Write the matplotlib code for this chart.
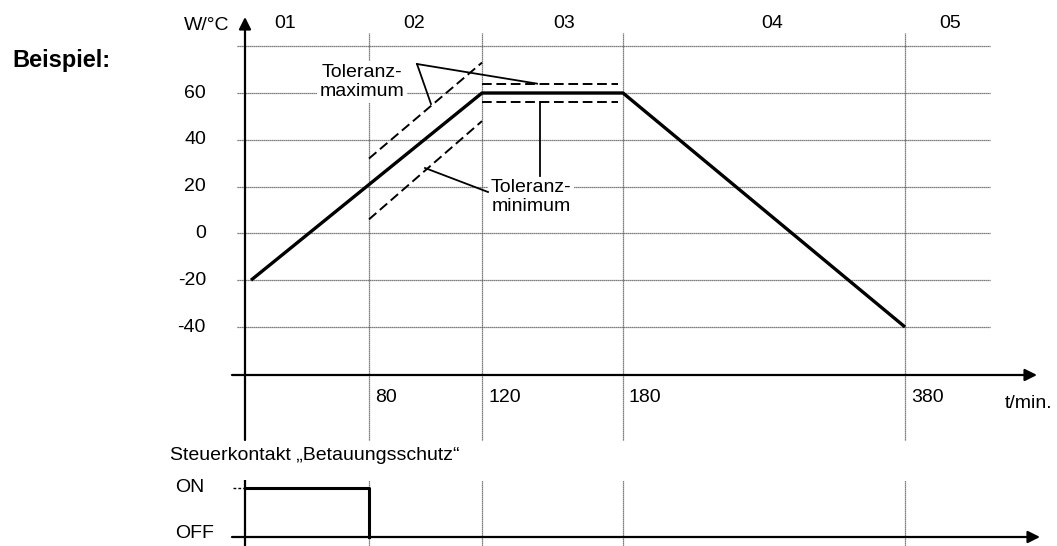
import numpy as np
import matplotlib
matplotlib.use("Agg")
import matplotlib.pyplot as plt

plt.rcParams['font.family'] = ['Liberation Sans', 'DejaVu Sans']

# =========================
# Data
# =========================
time_ticks = [80, 120, 180, 380]               # t/min. labels
value_ticks = [-40, -20, 0, 20, 40, 60]        # W/°C labels
grid_values = [-40, -20, 0, 20, 40, 60, 80]

profile_t = [0, 120, 180, 380]
profile_v = [-20, 60, 60, -40]

tol_max_ramp_t = [80, 120]
tol_max_ramp_v = [32, 73]
tol_min_ramp_t = [80, 120]
tol_min_ramp_v = [6, 48]
tol_hold_t = [120, 178]
tol_max_hold_v = [64, 64]
tol_min_hold_v = [56, 56]

segment_labels = ["01", "02", "03", "04", "05"]
segment_t = [23, 96, 155, 286, 412]

contact_end_t = 80   # ON until 80 min

# =========================
# Layout (pixels of the 1057x546 picture)
# =========================
W, H = 1057, 546
T_BRK = np.array([0, 80, 120, 180, 380], float)
P_BRK = np.array([251, 369, 482, 623, 905], float)
S0 = (P_BRK[1] - P_BRK[0]) / (T_BRK[1] - T_BRK[0])
S1 = (P_BRK[-1] - P_BRK[-2]) / (T_BRK[-1] - T_BRK[-2])


def fwd(t):
    t = np.asarray(t, float)
    p = np.interp(t, T_BRK, P_BRK)
    p = np.where(t < T_BRK[0], P_BRK[0] + (t - T_BRK[0]) * S0, p)
    p = np.where(t > T_BRK[-1], P_BRK[-1] + (t - T_BRK[-1]) * S1, p)
    return p


def inv(p):
    p = np.asarray(p, float)
    t = np.interp(p, P_BRK, T_BRK)
    t = np.where(p < P_BRK[0], T_BRK[0] + (p - P_BRK[0]) / S0, t)
    t = np.where(p > P_BRK[-1], T_BRK[-1] + (p - P_BRK[-1]) / S1, t)
    return t


def px(x):
    return float(inv(x))


def vtop(y):   # pixel row -> W/°C
    return 60 - (y - 93) / 2.34


def vbot(y):   # pixel row -> ON/OFF level
    return (537 - y) / 49.0


FS = 14
AXIS_T = px(245)
GRID_L, GRID_R = px(237), px(990)
GRID_C = '#555555'
GRID_LS = (0, (1, 0.6))

fig = plt.figure(figsize=(W / 100, H / 100), dpi=100)
ax = fig.add_axes([0, 1 - 445 / H, 1, (445 - 8) / H])
ax2 = fig.add_axes([0, 0, 1, (546 - 470) / H])

for a in (ax, ax2):
    a.set_xscale('function', functions=(fwd, inv))
    a.set_xlim(px(0), px(W))
    a.axis('off')
ax.set_ylim(vtop(445), vtop(8))
ax2.set_ylim(vbot(546), vbot(470))

# =========================
# Top chart
# =========================
ax.hlines(grid_values, GRID_L, GRID_R, colors=GRID_C, linestyles=[GRID_LS], lw=0.9, zorder=1)
ax.vlines(time_ticks, vtop(440), vtop(33), colors=GRID_C, linestyles=[GRID_LS], lw=0.9, zorder=1)

# axes with arrows
arrow = dict(arrowstyle='-|>', color='black', lw=1.6, mutation_scale=18, shrinkA=0, shrinkB=0)
ax.annotate('', xy=(AXIS_T, vtop(17)), xytext=(AXIS_T, vtop(440)), arrowprops=arrow, zorder=3)
ax.annotate('', xy=(px(1037), vtop(375)), xytext=(px(232), vtop(375)), arrowprops=arrow, zorder=3)

# profile and tolerance band
ax.plot(profile_t, profile_v, color='black', lw=2.4, zorder=4, solid_capstyle='butt')
dash = (0, (5.0, 2.4))
for tt, vv in [(tol_max_ramp_t, tol_max_ramp_v), (tol_min_ramp_t, tol_min_ramp_v),
               (tol_hold_t, tol_max_hold_v), (tol_hold_t, tol_min_hold_v)]:
    ax.plot(tt, vv, color='black', lw=1.4, linestyle=dash, zorder=4)

# tick labels
for v in value_ticks:
    ax.text(px(206), v, str(v), ha='right', va='center', fontsize=FS)
ax.text(px(229), vtop(25), 'W/°C', ha='right', va='center', fontsize=FS)
for t in time_ticks:
    ax.annotate(str(t), (t, vtop(397)), xytext=(6, 0), textcoords='offset pixels',
                ha='left', va='center', fontsize=FS)
for lab, t in zip(segment_labels, segment_t):
    ax.text(t, vtop(23), lab, ha='center', va='center', fontsize=FS)

# tolerance annotations
box = dict(facecolor='white', edgecolor='none', pad=2)
ax.text(px(362), vtop(82), 'Toleranz-\nmaximum', ha='center', va='center',
        fontsize=FS, linespacing=1.15, bbox=box, zorder=2)
ax.text(px(531), vtop(197), 'Toleranz-\nminimum', ha='center', va='center',
        fontsize=FS, linespacing=1.15, bbox=box, zorder=2)

max_start = (px(417), vtop(64))
ax.plot([max_start[0], px(537)], [max_start[1], 64], color='black', lw=1.3, zorder=4)
ax.plot([max_start[0], px(431)], [max_start[1], vtop(104)], color='black', lw=1.3, zorder=4)
ax.plot([px(540), px(540)], [56, vtop(176)], color='black', lw=1.3, zorder=4)
ax.plot([px(425), px(488)], [vtop(168), vtop(192)], color='black', lw=1.3, zorder=4)

# =========================
# Bottom chart (control contact)
# =========================
ax2.vlines(time_ticks, vbot(546), vbot(480), colors=GRID_C, linestyles=[GRID_LS], lw=0.9, zorder=1)
ax2.vlines([AXIS_T], vbot(546), vbot(480), colors='black', lw=1.6, zorder=3)
ax2.annotate('', xy=(px(1040), 0), xytext=(px(232), 0), arrowprops=arrow, zorder=3)
ax2.plot([px(233), AXIS_T], [1, 1], color='black', lw=1.0, linestyle=(0, (2, 1.5)))
ax2.plot([AXIS_T, contact_end_t, contact_end_t], [1, 1, 0], color='black', lw=2.2, zorder=4)

fig.text(12 / W, 1 - 60 / H, 'Beispiel:', ha='left', va='center', fontsize=17, fontweight='bold')
fig.text(170 / W, 1 - 455 / H, 'Steuerkontakt „Betauungsschutz“', ha='left', va='center', fontsize=FS)
fig.text(175 / W, 1 - 488 / H, 'ON', ha='left', va='center', fontsize=FS)
fig.text(175 / W, 1 - 534 / H, 'OFF', ha='left', va='center', fontsize=FS)
fig.text(1005 / W, 1 - 403 / H, 't/min.', ha='left', va='center', fontsize=FS)

fig.savefig('out.png', dpi=100)
